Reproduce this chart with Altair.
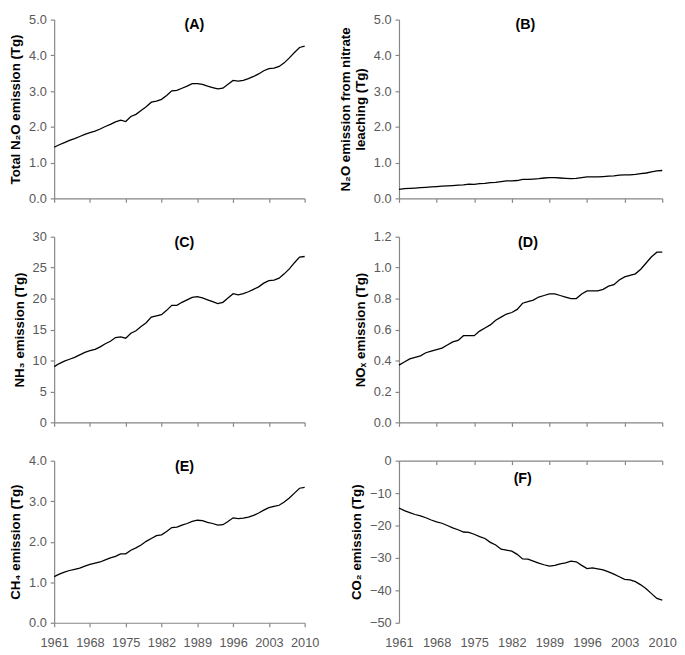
import altair as alt
import pandas as pd

years = list(range(1961, 2011))
x_ticks = [1961, 1968, 1975, 1982, 1989, 1996, 2003, 2010]

n2o_total = [1.43, 1.50, 1.56, 1.62, 1.67, 1.73, 1.79, 1.84, 1.88, 1.94,
             2.01, 2.07, 2.14, 2.19, 2.15, 2.29, 2.35, 2.46, 2.56, 2.69,
             2.72, 2.77, 2.88, 3.01, 3.02, 3.08, 3.14, 3.21, 3.21, 3.19,
             3.14, 3.10, 3.06, 3.08, 3.19, 3.30, 3.28, 3.30, 3.35, 3.41,
             3.48, 3.57, 3.63, 3.64, 3.69, 3.79, 3.93, 4.08, 4.22, 4.26]

n2o_leach = [0.25, 0.27, 0.28, 0.29, 0.30, 0.31, 0.32, 0.33, 0.34, 0.35,
             0.36, 0.37, 0.38, 0.40, 0.39, 0.41, 0.42, 0.44, 0.45, 0.47,
             0.49, 0.49, 0.50, 0.53, 0.53, 0.54, 0.55, 0.57, 0.58, 0.58,
             0.57, 0.56, 0.55, 0.56, 0.58, 0.60, 0.60, 0.60, 0.61, 0.62,
             0.63, 0.65, 0.66, 0.66, 0.67, 0.69, 0.71, 0.74, 0.77, 0.78]

nh3 = [9.0, 9.5, 9.9, 10.2, 10.5, 10.9, 11.3, 11.6, 11.8, 12.2,
       12.7, 13.1, 13.7, 13.8, 13.6, 14.4, 14.8, 15.5, 16.1, 17.0,
       17.2, 17.4, 18.1, 18.9, 18.9, 19.4, 19.8, 20.2, 20.3, 20.1,
       19.8, 19.5, 19.2, 19.4, 20.1, 20.8, 20.6, 20.8, 21.1, 21.5,
       21.9, 22.5, 22.9, 23.0, 23.3, 24.0, 24.8, 25.8, 26.7, 26.8]

nox = [0.37, 0.39, 0.41, 0.42, 0.43, 0.45, 0.46, 0.47, 0.48, 0.50,
       0.52, 0.53, 0.56, 0.56, 0.56, 0.59, 0.61, 0.63, 0.66, 0.68,
       0.70, 0.71, 0.73, 0.77, 0.78, 0.79, 0.81, 0.82, 0.83, 0.83,
       0.82, 0.81, 0.80, 0.80, 0.83, 0.85, 0.85, 0.85, 0.86, 0.88,
       0.89, 0.92, 0.94, 0.95, 0.96, 0.99, 1.03, 1.07, 1.10, 1.10]

ch4 = [1.14, 1.20, 1.25, 1.29, 1.32, 1.35, 1.40, 1.44, 1.47, 1.50,
       1.55, 1.60, 1.64, 1.70, 1.70, 1.79, 1.85, 1.92, 2.01, 2.08,
       2.15, 2.17, 2.25, 2.35, 2.36, 2.41, 2.45, 2.50, 2.53, 2.52,
       2.48, 2.45, 2.41, 2.42, 2.50, 2.59, 2.57, 2.58, 2.61, 2.65,
       2.71, 2.78, 2.84, 2.87, 2.90, 2.98, 3.08, 3.20, 3.32, 3.34]

co2 = [-14.6, -15.4, -16.0, -16.6, -17.0, -17.6, -18.3, -18.9, -19.3, -20.0,
       -20.7, -21.3, -22.0, -22.1, -22.7, -23.4, -24.0, -25.2, -26.0, -27.3,
       -27.6, -27.9, -28.9, -30.3, -30.4, -31.0, -31.6, -32.1, -32.5, -32.3,
       -31.8, -31.5, -31.0, -31.2, -32.3, -33.3, -33.1, -33.4, -33.7, -34.3,
       -35.0, -35.8, -36.6, -36.8, -37.3, -38.3, -39.5, -41.0, -42.5, -43.0]

FONT = "Liberation Sans"
LABEL_COLOR = "#595959"
AXIS_COLOR = "#868686"


def panel(vals, ydomain, yvalues, yfmt, ytitle, tag, w, h, xlabels,
          tag_frac, tag_y, top_axis=False):
    df = pd.DataFrame({"year": years, "v": vals})
    base = alt.Chart(df)
    xscale = alt.Scale(domain=[1961, 2010], nice=False, zero=False)
    yenc = alt.Y("v:Q", scale=alt.Scale(domain=ydomain, nice=False, zero=False),
                 axis=alt.Axis(values=yvalues, format=yfmt, title=ytitle, grid=False,
                               titlePadding=6, labelPadding=4))
    layers = []
    if not top_axis:
        xaxis = alt.Axis(values=x_ticks, format="d", labels=xlabels, title=None,
                         grid=False, labelPadding=10, labelFlush=False)
        layers.append(base.mark_line(color="black", strokeWidth=1.3).encode(
            x=alt.X("year:Q", scale=xscale, axis=xaxis), y=yenc))
    else:
        xaxis_top = alt.Axis(values=x_ticks, labels=False, title=None, grid=False,
                             orient="bottom", offset=-h)
        xaxis_lab = alt.Axis(values=x_ticks, format="d", title=None, grid=False,
                             orient="bottom", domain=False, ticks=False,
                             labelPadding=14, labelFlush=False)
        layers.append(base.mark_line(color="black", strokeWidth=1.3).encode(
            x=alt.X("year:Q", scale=xscale, axis=xaxis_top), y=yenc))
        layers.append(base.mark_line(opacity=0).encode(
            x=alt.X("year:Q", scale=xscale, axis=xaxis_lab), y=yenc))
    lab = alt.Chart(pd.DataFrame({"t": [tag]})).mark_text(
        fontWeight="bold", fontSize=14.5, font=FONT, color="black", baseline="middle"
    ).encode(x=alt.value(w * tag_frac), y=alt.value(tag_y), text="t:N")
    layers.append(lab)
    ch = alt.layer(*layers).properties(width=w, height=h)
    if top_axis:
        ch = ch.resolve_axis(x="independent")
    return ch


LW, RW = 255, 268

pA = panel(n2o_total, [0, 5], [0, 1, 2, 3, 4, 5], ".1f", "Total N₂O emission (Tg)",
           "(A)", LW, 182, False, 0.56, 6)
pC = panel(nh3, [0, 30], [0, 5, 10, 15, 20, 25, 30], "d", "NH₃ emission (Tg)",
           "(C)", LW, 189, False, 0.52, 6)
pE = panel(ch4, [0, 4], [0, 1, 2, 3, 4], ".1f", "CH₄ emission (Tg)",
           "(E)", LW, 165, True, 0.52, 6)
pB = panel(n2o_leach, [0, 5], [0, 1, 2, 3, 4, 5], ".1f",
           ["N₂O emission from nitrate", "leaching (Tg)"],
           "(B)", RW, 182, False, 0.48, 6)
pD = panel(nox, [0, 1.2], [0, 0.2, 0.4, 0.6, 0.8, 1.0, 1.2], ".1f", "NOₓ emission (Tg)",
           "(D)", RW, 189, False, 0.49, 6)
pF = panel(co2, [-50, 0], [-50, -40, -30, -20, -10, 0], "d", "CO₂ emission (Tg)",
           "(F)", RW, 165, True, 0.47, 19, top_axis=True)

left = alt.vconcat(pA, pC, pE, spacing=26)
right = alt.vconcat(pB, pD, pF, spacing=26)

chart = alt.hconcat(left, right, spacing=19).properties(
    padding={"left": 0, "top": 0, "right": 0, "bottom": 0},
    background="white"
).configure_view(stroke=None).configure_axis(
    domainColor=AXIS_COLOR, tickColor=AXIS_COLOR, tickSize=4,
    labelColor=LABEL_COLOR, labelFont=FONT, labelFontSize=13,
    titleFont=FONT, titleFontSize=13.5, titleFontWeight="bold", titleColor="black",
    domainWidth=1.2, tickWidth=1.2
)

chart.save("out.html", embed_options={"renderer": "svg", "actions": False})
